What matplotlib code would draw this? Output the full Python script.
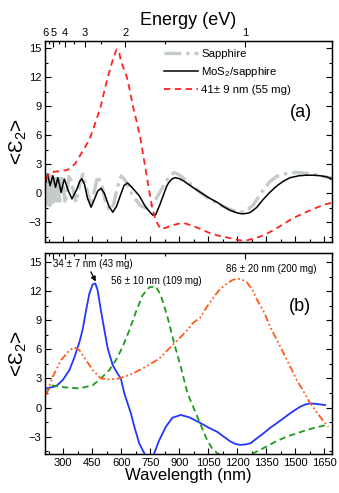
import numpy as np
import matplotlib
matplotlib.use('Agg')
import matplotlib.pyplot as plt
from matplotlib.ticker import MultipleLocator

plt.rcParams['font.family'] = ['Liberation Sans', 'DejaVu Sans']
plt.rcParams['mathtext.fontset'] = 'custom'
plt.rcParams['mathtext.rm'] = 'Liberation Sans'

# ---- panel (a) data, wavelength in nm ----
sapph_nm = [210, 214, 219, 225, 231, 238, 245, 253, 262, 271, 281, 292, 310, 332, 348, 366, 385, 401,
            420, 445, 462, 478, 500, 520, 540, 560, 580, 600, 625, 660, 700, 745, 795, 830, 872, 900,
            950, 1000, 1050, 1100, 1150, 1207, 1240, 1280, 1310, 1337, 1370, 1406, 1450, 1500, 1540,
            1580, 1620, 1650, 1690]
sapph_e2 = [0.3, 1.9, -1.2, 1.9, -1.3, 1.9, -1.3, 1.9, -1.2, 1.9, -1.2, 1.9, -1.1, 1.97, 0.6, -0.95, 0.9, 1.97,
            0.5, -1.3, 0.3, 1.8, 0.8, -1.0, -1.8, -1.2, 0.6, 1.8, 1.2, -0.3, -1.3, -1.7, -0.1, 1.2, 2.14, 1.9,
            1.1, 0.2, -0.5, -1.1, -1.6, -2.0, -1.9, -1.3, -0.4, 0.4, 1.2, 1.75, 2.0, 2.14, 2.1,
            2.0, 1.85, 1.7, 1.55]

mos2_nm = [210, 215, 220, 226, 232, 239, 246, 253, 260, 266, 272, 280, 289, 297, 306, 325, 345, 370, 385,
           396, 410, 425, 444, 460, 478, 495, 512, 535, 556, 575, 600, 615, 633, 655, 693, 725, 750, 765,
           778, 800, 820, 835, 846, 865, 881, 900, 924, 970, 1010, 1050, 1096, 1130, 1165, 1200, 1225,
           1250, 1268, 1300, 1337, 1370, 1406, 1440, 1474, 1520, 1561, 1600, 1629, 1660, 1690]
mos2_e2 = [1.1, 1.7, 1.97, 1.3, 0.76, 1.3, 1.8, 1.2, 0.6, 1.1, 1.6, 0.9, 0.08, 0.8, 1.45, 0.3, -0.6, 0.4, 1.2,
           1.5, 0.9, -0.5, -1.46, -0.7, 0.2, 0.5, 0.0, -1.3, -1.98, -1.4, 0.0, 0.8, 1.05, 0.6, -0.27, -1.4, -2.0, -2.3,
           -2.25, -1.2, -0.1, 0.7, 1.1, 1.5, 1.6, 1.5, 1.25, 0.6, 0.08, -0.45, -0.95, -1.4, -1.8, -2.05, -2.15,
           -2.1, -2.0, -1.5, -0.6, 0.1, 0.76, 1.25, 1.6, 1.8, 1.86, 1.85, 1.8, 1.7, 1.5]

np41_nm = [210, 225, 250, 290, 322, 360, 390, 420, 442, 470, 494, 515, 536, 556, 576, 590, 600, 628, 645,
           657, 680, 700, 720, 743, 760, 778, 803, 830, 855, 890, 924, 955, 984, 1020, 1053, 1100, 1148,
           1216, 1250, 1285, 1320, 1354, 1400, 1440, 1480, 1526, 1570, 1612, 1650, 1690]
np41_e2 = [1.4, 2.0, 2.2, 2.3, 2.4, 3.0, 4.0, 5.0, 5.9, 7.5, 9.0, 10.8, 12.4, 13.8, 14.9, 14.5, 13.6, 12.1, 10.6,
           9.3, 7.4, 5.6, 3.2, 0.4, -1.5, -2.8, -3.7, -3.6, -3.4, -3.2, -3.1, -3.3, -3.5, -3.8, -4.1, -4.4, -4.6,
           -4.9, -4.9, -4.7, -4.5, -4.2, -3.7, -3.2, -2.7, -2.25, -1.85, -1.5, -1.2, -1.0]

# ---- panel (b) data ----
np34_nm = [211, 263, 297, 332, 358, 384, 401, 418, 435, 452, 466, 478, 495, 513, 530, 556, 581, 598, 616,
           633, 650, 668, 693, 719, 745, 771, 797, 831, 865, 908, 951, 1010, 1050, 1096, 1130, 1165, 1190,
           1216, 1245, 1268, 1300, 1337, 1370, 1406, 1440, 1474, 1500, 1526, 1550, 1578, 1620, 1655]
np34_e2 = [1.97, 2.2, 2.83, 3.86, 5.2, 6.77, 8.1, 10.0, 11.75, 12.7, 12.8, 12.1, 10.0, 7.97, 6.1, 4.37, 3.5, 3.0, 1.46,
           0.43, -0.6, -1.98, -3.7, -4.7, -5.8, -4.7, -3.35, -1.98, -1.05, -0.77, -1.0, -1.6, -2.05, -2.5, -3.0, -3.5, -3.75,
           -3.86, -3.8, -3.7, -3.2, -2.65, -2.1, -1.6, -1.1, -0.6, -0.25, 0.08, 0.3, 0.43, 0.35, 0.26]

np56_nm = [211, 237, 297, 384, 452, 495, 538, 573, 607, 642, 676, 710, 745, 779, 805, 840, 874, 908, 943,
           1001, 1044, 1070, 1096, 1150, 1200, 1250, 1285, 1320, 1354, 1400, 1457, 1510, 1561, 1610, 1664]
np56_e2 = [1.46, 2.3, 2.1, 1.97, 2.3, 3.0, 3.86, 4.9, 6.25, 7.97, 9.86, 11.57, 12.4, 12.5, 11.57, 9.3, 6.6, 4.2, 1.46,
           -1.3, -3.35, -4.2, -4.7, -5.3, -5.5, -5.2, -4.7, -4.35, -4.0, -3.5, -3.0, -2.65, -2.3, -2.05, -1.8]

np86_nm = [211, 246, 289, 332, 358, 384, 418, 452, 495, 538, 590, 659, 727, 797, 865, 934, 968, 1010, 1040,
           1079, 1110, 1148, 1175, 1199, 1225, 1251, 1280, 1303, 1340, 1371, 1405, 1440, 1475, 1509, 1545,
           1578, 1605, 1629, 1650, 1672]
np86_e2 = [1.3, 3.2, 4.9, 5.9, 6.2, 5.9, 4.9, 3.86, 3.0, 2.9, 3.0, 3.5, 4.2, 5.06, 6.43, 7.8, 8.66, 9.3, 10.3,
           11.4, 12.2, 12.8, 13.15, 13.3, 13.2, 12.9, 12.1, 11.1, 9.8, 8.3, 7.0, 5.6, 4.2, 2.8, 1.6,
           0.43, -0.3, -0.95, -1.5, -2.0]

energies = [6, 5, 4, 3, 2, 1]
energies_minor = [5.5, 4.5, 3.5, 2.5, 1.5]

fig = plt.figure(figsize=(3.39, 4.93), dpi=100)
ax1 = fig.add_axes([0.133, 0.5085, 0.846, 0.409])
ax2 = fig.add_axes([0.133, 0.079, 0.846, 0.407])

ax1.plot(sapph_nm, sapph_e2, color='#c3cbcb', lw=2.4, dashes=(5, 1.5, 1, 1.5), label='Sapphire')
ax1.plot(mos2_nm, mos2_e2, color='black', lw=1.1, label='MoS$_2$/sapphire')
ax1.plot(np41_nm, np41_e2, color='#ff2222', lw=1.3, dashes=(3.5, 2.5), label='41± 9 nm (55 mg)')

ax2.plot(np34_nm, np34_e2, color='#2236ff', lw=1.3)
ax2.plot(np56_nm, np56_e2, color='#1f9a1f', lw=1.3, dashes=(3.5, 2.2))
ax2.plot(np86_nm, np86_e2, color='#ff5a1a', lw=1.3, dashes=(4, 1.5, 1, 1.5, 1, 1.5))

for ax, yl in ((ax1, (-5.1, 15.8)), (ax2, (-4.8, 15.9))):
    ax.set_xlim(206, 1690)
    ax.set_ylim(*yl)
    ax.yaxis.set_major_locator(MultipleLocator(3))
    ax.yaxis.set_minor_locator(MultipleLocator(1.5))
    ax.set_xticks(range(300, 1651, 150))
    ax.xaxis.set_minor_locator(MultipleLocator(75))
    ax.tick_params(which='both', direction='in', right=True, top=False, labelsize=8, width=0.8, pad=2.5)
    ax.tick_params(which='major', length=4)
    ax.tick_params(which='minor', length=2)
    for s in ax.spines.values():
        s.set_linewidth(1.0)
    ax.set_ylabel('<Ɛ$_2$>', fontsize=15, labelpad=0)
    tw = ax.twiny()
    tw.set_xlim(ax.get_xlim())
    tw.set_xticks([1240 / e for e in energies])
    tw.set_xticks([1240 / e for e in energies_minor], minor=True)
    tw.set_xticklabels([str(e) for e in energies])
    tw.tick_params(which='both', direction='in', labelsize=8, width=0.8, pad=2)
    tw.tick_params(which='major', length=4)
    tw.tick_params(which='minor', length=2)
    if ax is ax2:
        tw.set_xticklabels([])

ax1.tick_params(labelbottom=False)
fig.axes[2].set_xlabel('Energy (eV)', fontsize=13, labelpad=2)
ax2.set_xlabel('Wavelength (nm)', fontsize=12, labelpad=0)

ax1.legend(loc='upper left', bbox_to_anchor=(0.415, 0.96), frameon=False, fontsize=8.2,
           handlelength=3.0, handletextpad=0.25, labelspacing=0.55, borderpad=0, borderaxespad=0)
ax1.text(1531, 8.35, '(a)', fontsize=13, ha='center', va='center')
ax2.text(1526, 10.4, '(b)', fontsize=13, ha='center', va='center')

ax2.annotate('34 ± 7 nm (43 mg)', xy=(468, 13.0), xytext=(246, 14.8), fontsize=7, ha='left', va='center',
             arrowprops=dict(arrowstyle='-|>', color='black', lw=0.9, mutation_scale=7,
                             shrinkA=0, shrinkB=0, relpos=(0.46, 0)))
ax2.text(783, 13.1, '56 ± 10 nm (109 mg)', fontsize=7, ha='center', va='center')
ax2.text(1376, 14.3, '86 ± 20 nm (200 mg)', fontsize=7, ha='center', va='center')

fig.savefig('out.png', dpi=100)
